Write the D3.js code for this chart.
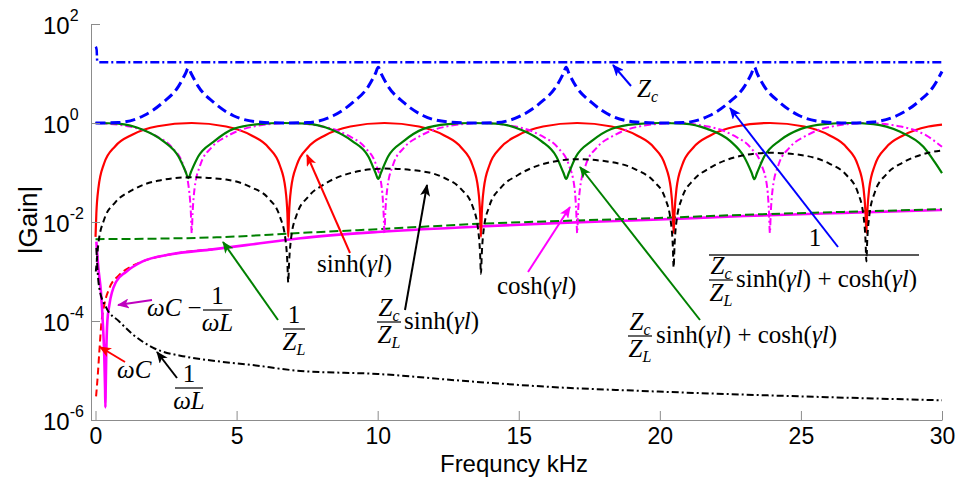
<!DOCTYPE html>
<html>
<head>
<meta charset="utf-8">
<script src="https://d3js.org/d3.v7.min.js"></script>
<style>
body { margin: 0; background: #fff; }
svg { display: block; }
.math { font-family: "Liberation Serif", "Times New Roman", serif; font-size: 25px; fill: #000; }
</style>
</head>
<body>
<svg id="chart" width="958" height="482"></svg>
<script>
// frequency in kHz, gain (magnitude)
let zc = [[0.01,35],[0.04,30],[0.06,18],[0.12,16.9],[1,16.8],[30,16.8]]

let invGain = [
  [0,1],[0.8,1.02],[1.7,1.4],[2.39,2.6],[2.94,5.5],[3.19,10],[3.29,13],[3.39,10],[3.64,5.5],[4.19,2.6],[4.89,1.4],[5.8,1.05],[6.65,1],
  [7.5,1.02],[8.42,1.4],[9.12,2.6],[9.67,5.5],[9.92,10],[10.02,13.3],[10.12,10],[10.37,5.5],[10.92,2.6],[11.62,1.4],[12.5,1.05],[13.35,1],
  [14.2,1.02],[15.08,1.4],[15.78,2.6],[16.33,5.5],[16.58,10],[16.68,13.3],[16.78,10],[17.03,5.5],[17.58,2.6],[18.28,1.4],[19.15,1.05],[20,1],
  [20.85,1.02],[21.75,1.4],[22.45,2.6],[23,5.5],[23.25,10],[23.35,13.5],[23.45,10],[23.7,5.5],[24.25,2.6],[24.95,1.4],[25.85,1.05],[26.7,1],
  [27.57,1.05],[28.5,1.5],[29.2,2.8],[29.7,5.5],[30,11]
]

let sinhVals = [
  [0,0.005],[0.03,0.015],[0.1,0.047],[0.3,0.15],[0.7,0.34],[1.3,0.58],[2.2,0.86],[3.41,1],
  [4.63,0.85],[5.53,0.56],[6.13,0.32],[6.53,0.14],[6.73,0.047],[6.8,0.015],[6.83,0.005],[6.86,0.015],[6.93,0.047],[7.13,0.14],[7.53,0.32],[8.13,0.56],[9.03,0.85],[10.24,1],
  [11.46,0.85],[12.36,0.56],[12.96,0.32],[13.36,0.14],[13.56,0.047],[13.63,0.015],[13.66,0.005],[13.69,0.015],[13.76,0.047],[13.96,0.14],[14.36,0.32],[14.96,0.56],[15.86,0.85],[17.07,1],
  [18.29,0.85],[19.19,0.56],[19.79,0.32],[20.19,0.14],[20.39,0.047],[20.46,0.015],[20.49,0.006],[20.52,0.015],[20.59,0.047],[20.79,0.14],[21.19,0.32],[21.79,0.56],[22.69,0.85],[23.9,1],
  [25.12,0.85],[26.02,0.56],[26.62,0.32],[27.02,0.14],[27.22,0.047],[27.29,0.015],[27.32,0.006],[27.35,0.015],[27.42,0.047],[27.62,0.14],[28.02,0.32],[28.62,0.56],[29.52,0.85],[30,0.93]
]

let zcSinh = [
  [0.01,0.001],[0.03,0.0013],[0.1,0.0036],[0.3,0.011],[0.7,0.025],[1.3,0.044],[2.2,0.068],[3.41,0.08],
  [4.63,0.072],[5.53,0.05],[6.13,0.03],[6.53,0.013],[6.73,0.0045],[6.8,0.0015],[6.83,0.0006],[6.86,0.0015],[6.93,0.0046],[7.13,0.014],[7.53,0.032],[8.13,0.059],[9.03,0.097],[10.24,0.12],
  [11.46,0.108],[12.36,0.078],[12.96,0.046],[13.36,0.021],[13.56,0.007],[13.63,0.0023],[13.66,0.0009],[13.69,0.0023],[13.76,0.0072],[13.96,0.021],[14.36,0.049],[14.96,0.088],[15.86,0.148],[17.07,0.185],
  [18.29,0.162],[19.19,0.112],[19.79,0.066],[20.19,0.03],[20.39,0.01],[20.46,0.0033],[20.49,0.0012],[20.52,0.0033],[20.59,0.0103],[20.79,0.031],[21.19,0.07],[21.79,0.125],[22.69,0.205],[23.9,0.25],
  [25.12,0.22],[26.02,0.15],[26.62,0.088],[27.02,0.039],[27.22,0.013],[27.29,0.0042],[27.32,0.0016],[27.35,0.0042],[27.42,0.013],[27.62,0.04],[28.02,0.091],[28.62,0.16],[29.52,0.25],[30,0.28]
]

let coshVals = [
  [0,1],[1.21,0.85],[2.11,0.56],[2.71,0.32],[3.11,0.14],[3.31,0.047],[3.38,0.015],[3.41,0.006],[3.44,0.015],[3.51,0.047],[3.71,0.14],[4.11,0.32],[4.71,0.56],[5.61,0.85],[6.83,1],
  [8.05,0.85],[8.95,0.56],[9.55,0.32],[9.95,0.14],[10.15,0.047],[10.21,0.015],[10.24,0.006],[10.27,0.015],[10.34,0.047],[10.54,0.14],[10.94,0.32],[11.54,0.56],[12.44,0.85],[13.66,1],
  [14.88,0.85],[15.78,0.56],[16.38,0.32],[16.78,0.14],[16.98,0.047],[17.04,0.015],[17.07,0.006],[17.1,0.015],[17.17,0.047],[17.37,0.14],[17.77,0.32],[18.37,0.56],[19.27,0.85],[20.49,1],
  [21.71,0.85],[22.61,0.56],[23.21,0.32],[23.61,0.14],[23.81,0.047],[23.87,0.015],[23.9,0.006],[23.93,0.015],[24,0.047],[24.2,0.14],[24.6,0.32],[25.2,0.56],[26.1,0.85],[27.32,1],
  [28.54,0.85],[29.44,0.56],[30,0.33]
]

let gainDen = [
  [0,1],[0.8,0.97],[1.7,0.72],[2.4,0.43],[2.94,0.21],[3.19,0.105],[3.29,0.077],[3.39,0.105],[3.64,0.21],[4.19,0.42],[4.89,0.76],[5.8,0.95],[6.65,1],
  [7.5,0.97],[8.4,0.72],[9.1,0.43],[9.67,0.21],[9.92,0.1],[10.02,0.074],[10.12,0.1],[10.37,0.21],[10.92,0.43],[11.62,0.76],[12.5,0.95],[13.35,1],
  [14.2,0.97],[15.1,0.72],[15.8,0.43],[16.33,0.21],[16.58,0.1],[16.68,0.074],[16.78,0.1],[17.03,0.21],[17.58,0.43],[18.28,0.76],[19.15,0.95],[20,1],
  [20.85,0.97],[21.68,0.76],[22.5,0.43],[22.98,0.21],[23.25,0.1],[23.35,0.073],[23.45,0.1],[23.7,0.21],[24.27,0.45],[25,0.76],[25.85,0.95],[26.7,1],
  [27.57,0.95],[28.5,0.67],[29.34,0.33],[29.75,0.16],[30,0.097]
]

let invZL = [[0,0.0045],[2,0.0046],[4.3,0.0049],[7.25,0.006],[10.1,0.0072],[13.6,0.0092],[16.5,0.0105],[19.7,0.0119],[23,0.014],[26.5,0.016],[30,0.0182]]

let wCminus = [
  [0.03,0.004],[0.1,0.0012],[0.19,0.0004],[0.27,0.00007],[0.31,0.00002],[0.34,0.000004],[0.35,0.0000018],[0.36,0.000004],[0.38,0.00002],
  [0.42,0.0001],[0.49,0.00021],[0.73,0.00062],[1.08,0.00098],[1.67,0.0016],[2.62,0.0022],[4.15,0.0028],[5.5,0.0035],[7.26,0.0047],
  [10,0.0063],[13.6,0.0081],[16.5,0.0096],[19.5,0.011],[23,0.0132],[26.5,0.0153],[30,0.0175]
]

let wC = [[0.02,0.000003],[0.08,0.000008],[0.135,0.000024],[0.2,0.00008],[0.31,0.00021],[0.49,0.00046],[0.84,0.00085],[1.2,0.0012],[1.67,0.0016],[2.62,0.0022],[4.15,0.0028]]

let invWL = [
  [0.03,0.003],[0.08,0.0009],[0.135,0.00046],[0.37,0.00019],[0.84,0.000098],[1.3,0.000055],[2.03,0.000029],[3.2,0.000019],[4.27,0.0000155],
  [5.5,0.000013],[7.26,0.0000098],[10,0.0000085],[13,0.0000062],[16,0.0000047],[19.7,0.0000038],[25,0.000003],[30,0.0000025]
]

let xTicks = [0, 5, 10, 15, 20, 25, 30]
let yTicks = [1e-6, 1e-4, 1e-2, 1, 1e2]
let yExps = ["-6", "-4", "-2", "0", "2"]

let svg = d3.select("#chart")

let xScale = d3.scaleLinear().domain([-0.16, 30]).range([91, 942])
let yScale = d3.scaleLog().domain([1e-6, 1e2]).range([420, 24])

let line = d3.line()
    .x(d => xScale(d[0]))
    .y(d => yScale(d[1]))
    .curve(d3.curveMonotoneX)

// bottom to top drawing order
let series = [
    {data: wC, color: "#ff0000", w: 2, dash: "7,4"},
    {data: wCminus, color: "#ff00ff", w: 2.6, dash: null},
    {data: invZL, color: "#008000", w: 2, dash: "9,4"},
    {data: invWL, color: "#000000", w: 2, dash: "7,3,2,3"},
    {data: sinhVals, color: "#ff0000", w: 2.2, dash: null},
    {data: coshVals, color: "#ff00ff", w: 2, dash: "7,3,2,3"},
    {data: gainDen, color: "#008000", w: 2.2, dash: null},
    {data: zcSinh, color: "#000000", w: 2, dash: "6,4"},
    {data: invGain, color: "#0000ff", w: 3, dash: "10,5"},
    {data: zc, color: "#0000ff", w: 2.5, dash: "9,3,2,3"}
]

series.forEach(s => {
    svg.append("path")
        .attr("d", line(s.data))
        .attr("fill", "none")
        .attr("stroke", s.color)
        .attr("stroke-width", s.w)
        .attr("stroke-dasharray", s.dash)
})

// axes
let xAxis = d3.axisBottom(xScale).tickValues(xTicks).tickSize(-9).tickSizeOuter(0).tickPadding(8)
let gx = svg.append("g").attr("transform", "translate(0,420)").call(xAxis)
gx.attr("font-family", "'Liberation Sans', Arial, sans-serif").attr("font-size", 23)
gx.selectAll("line, path").attr("stroke", "#8c8c8c")
gx.selectAll("text").attr("fill", "#000")

let yAxis = d3.axisLeft(yScale).tickValues(yTicks).tickSize(-9).tickSizeOuter(0).tickFormat("")
let gy = svg.append("g").attr("transform", "translate(91,0)").call(yAxis)
gy.selectAll("line, path").attr("stroke", "#8c8c8c")
let yLab = gy.selectAll(".tick").append("text")
    .attr("x", -48).attr("y", 9)
    .attr("text-anchor", "start")
    .attr("fill", "#000")
    .attr("font-family", "'Liberation Sans', Arial, sans-serif")
    .attr("font-size", 24)
yLab.append("tspan").text("10")
yLab.append("tspan").attr("font-size", 16).attr("dy", -13).text((d, i) => yExps[i])

svg.append("text")
    .attr("x", 514).attr("y", 472)
    .attr("text-anchor", "middle")
    .attr("font-family", "'Liberation Sans', Arial, sans-serif")
    .attr("font-size", 24)
    .text("Frequncy kHz")

svg.append("text")
    .attr("transform", "translate(37,220) rotate(-90)")
    .attr("text-anchor", "middle")
    .attr("font-family", "'Liberation Sans', Arial, sans-serif")
    .attr("font-size", 26)
    .text("|Gain|")

// annotations
let defs = svg.append("defs")
let arrowColors = {blue: "#0000ff", red: "#ff0000", black: "#000000", magenta: "#ff00ff", green: "#008000", purple: "#bf00bf"}
Object.entries(arrowColors).forEach(([k, c]) => {
    defs.append("marker")
        .attr("id", "ah-" + k)
        .attr("viewBox", "0 0 12 10")
        .attr("refX", 11).attr("refY", 5)
        .attr("markerWidth", 12).attr("markerHeight", 10)
        .attr("markerUnits", "userSpaceOnUse")
        .attr("orient", "auto")
        .append("path")
        .attr("d", "M0,0 L12,5 L0,10 L3,5 Z")
        .attr("fill", c)
})

function arrow(x1, y1, x2, y2, k) {
    svg.append("line")
        .attr("x1", x1).attr("y1", y1).attr("x2", x2).attr("y2", y2)
        .attr("stroke", arrowColors[k]).attr("stroke-width", 2)
        .attr("marker-end", "url(#ah-" + k + ")")
}

function label(x, y, parts, anchor) {
    let t = svg.append("text").attr("class", "math")
        .attr("x", x).attr("y", y)
        .attr("text-anchor", anchor || "start")
    let sub = false
    parts.forEach(p => {
        let ts = t.append("tspan").text(p[0])
        if (p[1] == "i" || p[1] == "s") ts.attr("font-style", "italic")
        if (p[1] == "s") { ts.attr("font-size", 16).attr("dy", 5); sub = true }
        else if (sub) { ts.attr("dy", -5); sub = false }
    })
}

function frac(xl, xr, yl, num, den) {
    svg.append("line").attr("x1", xl).attr("x2", xr).attr("y1", yl).attr("y2", yl)
        .attr("stroke", "#000").attr("stroke-width", 1.2)
    label((xl + xr) / 2, yl - 6, num, "middle")
    label((xl + xr) / 2, yl + 21, den, "middle")
}

let Zc = [["Z", "i"], ["c", "s"]]
let ZL = [["Z", "i"], ["L", "s"]]
let one = [["1", ""]]
let wL = [["ωL", "i"]]
let sinhT = [["sinh(", ""], ["γl", "i"], [")", ""]]
let coshT = [["cosh(", ""], ["γl", "i"], [")", ""]]
let sumT = sinhT.concat([[" + cosh(", ""], ["γl", "i"], [")", ""]])

label(637, 97, Zc)
arrow(631, 86, 613, 65, "blue")

label(317, 272, sinhT)
arrow(350, 253, 307, 155, "red")

frac(377, 401, 322, Zc, ZL)
label(404, 329, sinhT)
arrow(405, 310, 427, 185, "black")

label(497, 294, coshT)
arrow(528, 272, 570, 207, "magenta")

frac(628, 652, 336, Zc, ZL)
label(656, 343, sumT)
arrow(700, 320, 580, 167, "green")

svg.append("line").attr("x1", 709).attr("x2", 919).attr("y1", 255).attr("y2", 255)
    .attr("stroke", "#222").attr("stroke-width", 1.5)
label(815, 246, one, "middle")
frac(709, 733, 280, Zc, ZL)
label(736, 287, sumT)
arrow(838, 247, 730, 108, "blue")

frac(283, 305, 329, one, ZL)
arrow(278, 320, 223, 242, "green")

label(147, 316, [["ωC", "i"], [" −", ""]])
frac(203, 232, 310, one, wL)
arrow(152, 300, 118, 305, "purple")

label(117, 378, [["ωC", "i"]])
arrow(125, 362, 100, 347, "red")

frac(175, 203, 388, one, wL)
arrow(177, 378, 157, 352, "black")
</script>
</body>
</html>
